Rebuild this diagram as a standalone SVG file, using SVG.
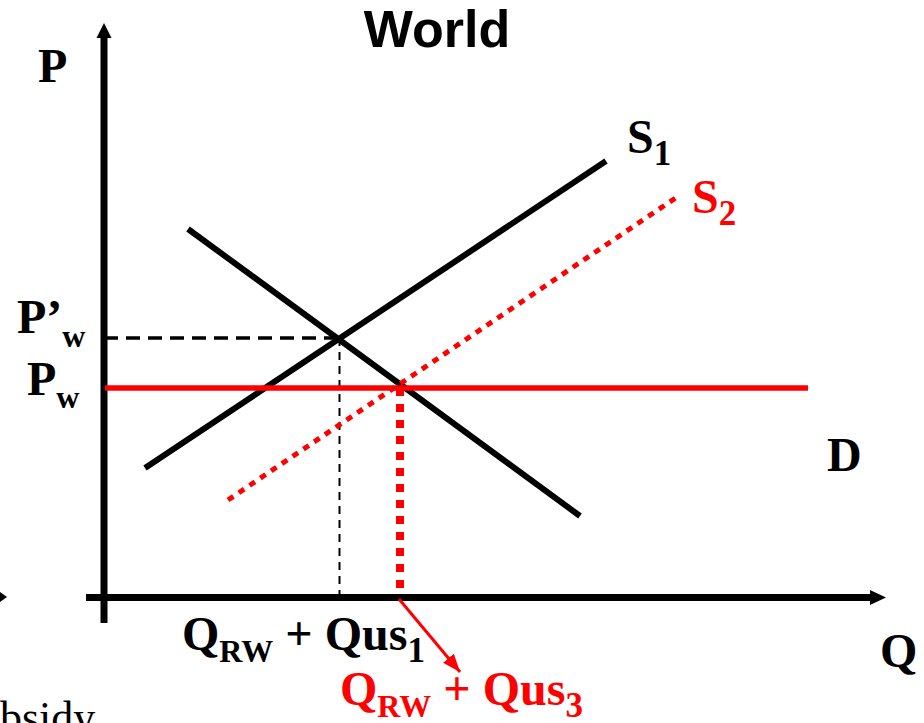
<svg xmlns="http://www.w3.org/2000/svg" width="924" height="723" viewBox="0 0 924 723">
<style>
.t{font-family:"Liberation Serif","Times New Roman",serif;font-weight:bold;font-size:48px;fill:#000}
.r{fill:#ff0000}
.sub{font-size:32px}
.dig{font-size:35px}
.ax{stroke:#000;stroke-width:7;fill:none}
.blk{stroke:#000;stroke-width:6;fill:none}
</style>
<defs>
<marker id="ah" markerUnits="userSpaceOnUse" markerWidth="20" markerHeight="16" refX="18" refY="7" orient="auto">
<path d="M0,0 L18,7 L0,14 Z" fill="#ff0000"/>
</marker>
</defs>
<rect width="924" height="723" fill="#fff"/>
<g id="title"><text x="437" y="47" text-anchor="middle" style="font-family:'Liberation Sans',Arial,sans-serif;font-weight:bold;font-size:52px">World</text></g>
<g id="axes">
<line class="ax" x1="104" y1="36" x2="104" y2="623"/>
<polygon points="104,23 96.5,38 111.5,38" fill="#000"/>
<line class="ax" x1="86" y1="597.5" x2="872" y2="597.5"/>
<polygon points="886,597.5 870,590 870,605" fill="#000"/>
<polygon points="0,592 7,597 0,602" fill="#000"/>
</g>
<g id="guides">
<line x1="104" y1="338" x2="340" y2="338" stroke="#000" stroke-width="3.5" stroke-dasharray="14 8"/>
<line x1="339.5" y1="338" x2="339.5" y2="596" stroke="#000" stroke-width="2" stroke-dasharray="8 6"/>
<line x1="400" y1="388" x2="400" y2="596" stroke="#ff0000" stroke-width="8" stroke-dasharray="8 8"/>
</g>
<g id="S1"><line class="blk" x1="145" y1="468" x2="606" y2="161"/></g>
<g id="D"><line class="blk" x1="188" y1="229" x2="580" y2="516"/></g>
<g id="S2"><line x1="228" y1="500" x2="677" y2="197" stroke="#ff0000" stroke-width="5" stroke-dasharray="6.5 6.5"/></g>
<g id="Pw-line"><line x1="105" y1="388" x2="808" y2="388" stroke="#ff0000" stroke-width="5.5"/></g>
<g id="connectors">
<line x1="399" y1="599" x2="460" y2="672" stroke="#ff0000" stroke-width="3" marker-end="url(#ah)"/>
</g>
<g id="labels">
<text class="t" x="38" y="82">P</text>
<text class="t" x="17" y="333">P’<tspan class="sub" dy="14">w</tspan></text>
<text class="t" x="27" y="395">P<tspan class="sub" dy="13">w</tspan></text>
<text class="t" x="827" y="471">D</text>
<text class="t" x="880" y="667">Q</text>
<text class="t" x="627" y="153">S<tspan class="dig" dy="12">1</tspan></text>
<text class="t r" x="692" y="213">S<tspan class="dig" dy="12">2</tspan></text>
<text class="t" x="182" y="650">Q<tspan class="sub" dy="12">RW</tspan><tspan dy="-12"> + Qus</tspan><tspan class="dig" dy="12">1</tspan></text>
<text class="t r" x="340" y="705">Q<tspan class="sub" dy="12">RW</tspan><tspan dy="-12"> + Qus</tspan><tspan class="dig" dy="12">3</tspan></text>
<text x="0" y="732" style="font-family:'Liberation Serif','Times New Roman',serif;font-size:44px">bsidy</text>
</g>
</svg>
